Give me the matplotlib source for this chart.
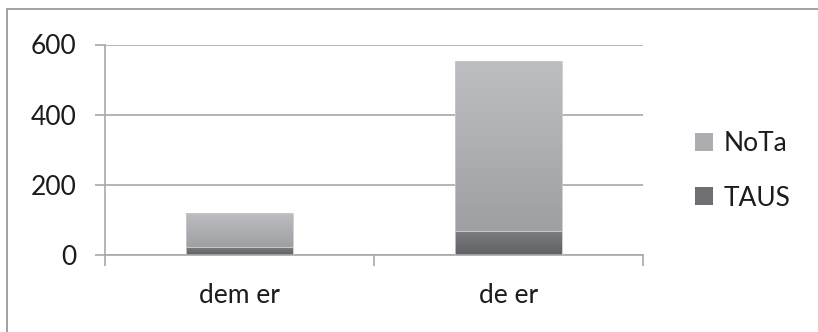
import numpy as np
import matplotlib.pyplot as plt
from matplotlib.patches import Rectangle, Patch
from matplotlib.colors import LinearSegmentedColormap

# data
categories = ['dem er', 'de er']
taus = [22, 68]
nota_total = [119, 552]
nota = [t - s for t, s in zip(nota_total, taus)]

plt.rcParams['font.family'] = ['Lato', 'DejaVu Sans']
txt = '#1c1c1c'

fig = plt.figure(figsize=(8.18, 3.32), dpi=100)
ax = fig.add_axes([105 / 818, 1 - 255 / 332, 538 / 818, 210.5 / 332])

# outer chart frame
fig.patches.append(Rectangle((7 / 818, -0.1), 1.2, 1 - 9 / 332 + 0.1,
                             transform=fig.transFigure, fill=False,
                             edgecolor='#9a9a9a', linewidth=1.3))

x = np.arange(len(categories))
w = 0.395
cm_nota = LinearSegmentedColormap.from_list('nota', ['#9fa0a3', '#bdbec1'])
cm_taus = LinearSegmentedColormap.from_list('taus', ['#606164', '#7b7c7f'])
grad = np.linspace(0, 1, 100).reshape(-1, 1)

b1 = ax.bar(x, taus, w, color='none', edgecolor='#c9c9cb', linewidth=0.6, zorder=3)
b2 = ax.bar(x, nota, w, bottom=taus, color='none', edgecolor='#c9c9cb', linewidth=0.6, zorder=3)
for bars, cm in [(b1, cm_taus), (b2, cm_nota)]:
    for r in bars:
        x0, y0 = r.get_x(), r.get_y()
        im = ax.imshow(grad, cmap=cm, origin='lower', aspect='auto', zorder=2.5,
                       extent=[x0, x0 + r.get_width(), y0, y0 + r.get_height()])
        im.set_clip_path(r)

ax.set_xlim(-0.5, len(categories) - 0.5)
ax.set_ylim(0, 600)
ax.set_yticks([0, 200, 400, 600])
ax.set_xticks(x)
ax.set_xticklabels(categories)
ax.set_xticks([-0.5, 0.5, 1.5], minor=True)

ax.grid(axis='y', color='#a8a8a8', linewidth=1.2, zorder=1)
ax.set_axisbelow(True)
for s in ['top', 'right']:
    ax.spines[s].set_visible(False)
for s in ['left', 'bottom']:
    ax.spines[s].set_color('#a8a8a8')
    ax.spines[s].set_linewidth(1.2)

ax.tick_params(axis='y', length=7.5, width=1.2, color='#a8a8a8', pad=13,
               labelsize=19, labelcolor=txt)
ax.tick_params(axis='x', which='major', length=0, pad=20, labelsize=19, labelcolor=txt)
ax.tick_params(axis='x', which='minor', length=8, width=1.2, color='#a8a8a8')

handles = [Patch(facecolor='#acadb0', edgecolor='none'),
           Patch(facecolor='#6e6f72', edgecolor='none')]
fig.legend(handles, ['NoTa', 'TAUS'], loc='center left',
           bbox_to_anchor=(695 / 818, 1 - 171 / 332), frameon=False,
           fontsize=19, labelcolor=txt, handlelength=0.68, handleheight=0.68,
           handletextpad=0.4, labelspacing=1.1, borderpad=0, borderaxespad=0)

fig.savefig('out.png', dpi=100)
